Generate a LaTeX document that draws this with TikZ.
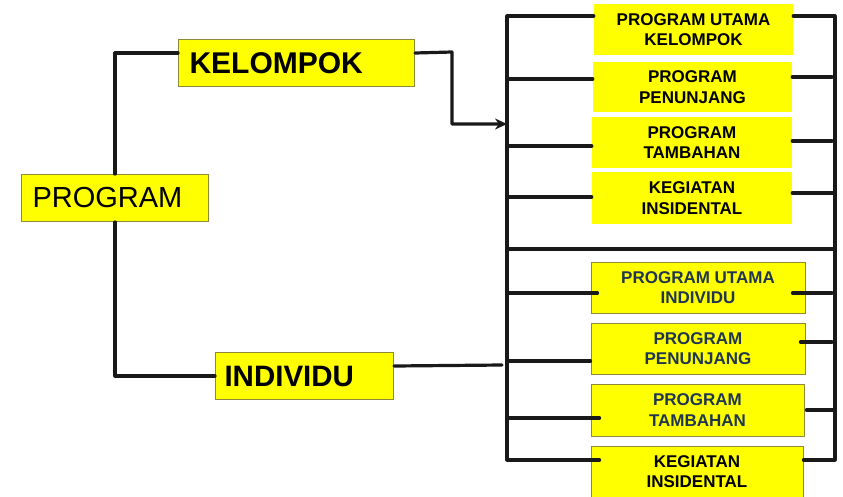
\documentclass[tikz,border=0pt]{standalone}
\usepackage{fontspec}
\setmainfont{Liberation Sans}
\usetikzlibrary{arrows.meta}
\definecolor{boxyellow}{HTML}{FFFF00}
\definecolor{boxedge}{HTML}{8C8A3A}
\definecolor{navytext}{HTML}{1F3550}
\begin{document}
\begin{tikzpicture}[x=1pt,y=-1pt,
  conn/.style={line width=3.2pt,line cap=round,line join=round,black!90},
  mainbox/.style={fill=boxyellow,draw=boxedge,line width=1pt,anchor=north west,inner xsep=0pt,inner ysep=0pt},
  subbox/.style={fill=boxyellow,align=center,inner sep=0pt,
    font=\bfseries\fontsize{17}{20.5}\selectfont},
  subboxb/.style={subbox,draw=boxedge,line width=0.9pt,text=navytext}]
\useasboundingbox[fill=white] (0,0) rectangle (843,496);

% main boxes
\node[mainbox,minimum width=187pt,minimum height=47pt,text width=187pt,align=left]
  (prog) at (21,174) {\hspace*{11pt}\fontsize{29}{30}\selectfont PROGRAM};
\node[mainbox,minimum width=236pt,minimum height=47pt,text width=236pt,align=left]
  (kel) at (178,39) {\hspace*{11pt}\bfseries\fontsize{30}{31}\selectfont KELOMPOK};
\node[mainbox,minimum width=178pt,minimum height=47pt,text width=178pt,align=left]
  (ind) at (215,352) {\hspace*{9pt}\bfseries\fontsize{29.5}{31}\selectfont INDIVIDU};

% group boxes (kelompok)
\node[subbox,minimum width=199pt,minimum height=51pt] (t1) at (693.5,29.5) {PROGRAM UTAMA\\KELOMPOK};
\node[subbox,minimum width=199pt,minimum height=50pt] (t2) at (692.5,87) {PROGRAM\\PENUNJANG};
\node[subbox,minimum width=200pt,minimum height=51pt] (t3) at (692,142.5) {PROGRAM\\TAMBAHAN};
\node[subbox,minimum width=200pt,minimum height=52pt] (t4) at (692,198) {KEGIATAN\\INSIDENTAL};

% individual boxes
\node[subboxb,minimum width=214pt,minimum height=51pt] (b1) at (698,287.5) {PROGRAM UTAMA\\INDIVIDU};
\node[subboxb,minimum width=214pt,minimum height=51pt] (b2) at (698,348.5) {PROGRAM\\PENUNJANG};
\node[subboxb,minimum width=213pt,minimum height=52pt] (b3) at (697.5,410) {PROGRAM\\TAMBAHAN};
\node[subboxb,minimum width=212pt,minimum height=51pt,text=black] (b4) at (697,471.5) {KEGIATAN\\INSIDENTAL};

% bus coordinates
\coordinate (btl) at (507,16);
\coordinate (bbl) at (507,460);
\coordinate (btr) at (835,16);
\coordinate (bbr) at (835,460);
\coordinate (bml) at (507,249);
\coordinate (bmr) at (835,249);
\coordinate (kbend) at (452,52);
\coordinate (busin) at (507,124);
\coordinate (indend) at (502,365);

% left tree
\draw[conn] (prog.north) |- ([yshift=10pt]kel.west);
\draw[conn] (prog.south) |- (ind.west);
\draw[conn,-{Stealth[length=12pt,width=11pt]}] ([yshift=10pt]kel.east) -- (kbend) |- (busin);
\draw[conn] ([yshift=10pt]ind.east) -- (indend);

% bus frame
\draw[conn] (t1.west |- btl) -- (btl) -- (bbl) -- ([xshift=9pt]b4.west |- bbl);
\draw[conn] (t1.east |- btr) -- (btr) -- (bbr) -- (b4.east |- bbr);
\draw[conn] (bml) -- (bmr);

% left connectors
\coordinate (l2) at (507,79);
\coordinate (l3) at (507,146);
\coordinate (l4) at (507,197);
\coordinate (l5) at (507,293);
\coordinate (l6) at (507,361);
\coordinate (l7) at (507,418);
\draw[conn] (l2) -- (t2.west |- l2);
\draw[conn] (l3) -- (t3.west |- l3);
\draw[conn] (l4) -- (t4.west |- l4);
\draw[conn] (l5) -- ([xshift=7pt]b1.west |- l5);
\draw[conn] (l6) -- (b2.west |- l6);
\draw[conn] (l7) -- ([xshift=9pt]b3.west |- l7);

% right connectors
\coordinate (r2) at (832,77);
\coordinate (r3) at (832,141);
\coordinate (r4) at (835,193);
\coordinate (r5) at (832,293);
\coordinate (r6) at (832,342);
\coordinate (r7) at (835,410);
\draw[conn] (t2.east |- r2) -- (r2);
\draw[conn] (t3.east |- r3) -- (r3);
\draw[conn] (t4.east |- r4) -- (r4);
\draw[conn] ([xshift=-13pt]b1.east |- r5) -- (r5);
\draw[conn] ([xshift=-5pt]b2.east |- r6) -- (r6);
\draw[conn] ([xshift=2pt]b3.east |- r7) -- (r7);
\end{tikzpicture}
\end{document}
